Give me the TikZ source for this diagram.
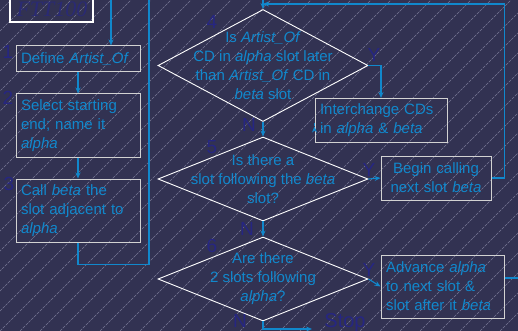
\documentclass[tikz,border=0pt]{standalone}
\usepackage{fontspec}
\setmainfont{Liberation Sans}
\newfontfamily\titlefont{Liberation Serif}
\usetikzlibrary{arrows.meta, positioning, calc, shapes.geometric}

\definecolor{slate}{RGB}{50,50,82}
\definecolor{flowblue}{RGB}{17,136,204}
\definecolor{stepnum}{RGB}{38,38,130}
\definecolor{hatchgray}{RGB}{120,120,150}

\begin{document}
\begin{tikzpicture}[x=1pt, y=-1pt,
    box/.style={draw=gray!35, line width=1pt, text=flowblue, align=left,
        font=\fontsize{15}{19}\selectfont, inner sep=5pt},
    decision/.style={diamond, draw=white, line width=0.9pt, inner sep=0pt,
        minimum width=210pt},
    qtext/.style={text=flowblue, align=center, font=\fontsize{15}{19}\selectfont},
    num/.style={text=stepnum, font=\fontsize{19}{19}\selectfont},
    flow/.style={draw=flowblue, line width=1.1pt, -{Stealth[length=6pt,width=5pt]}},
    wire/.style={draw=flowblue, line width=1.1pt}]

    \clip (0,0) rectangle (518,331);
    \fill[slate] (0,0) rectangle (518,331);

    % Hatching
    \foreach \i in {-340,-320,...,520} {
        \draw[hatchgray, line width=0.4pt, dash pattern=on 3pt off 1pt] (\i,331) -- ++(331,-331);
    }

    % Title box, cut at the top
    \draw[white, line width=2pt] (10,-6) rectangle (93,22);
    \node[text=stepnum!70!slate, font=\titlefont\itshape\fontsize{22}{22}\selectfont] (title) at (52,9) {FTT100};

    % Left column
    \node[box, text width=114pt, minimum height=26pt] (define) at (78,59) {Define \textit{Artist\_Of}};
    \node[box, text width=114pt, minimum height=63pt] (start) at (78,125.5) {Select starting\\end; name it\\\textit{alpha}};
    \node[box, text width=114pt, minimum height=63pt] (call) at (78,210.5) {Call \textit{beta} the\\slot adjacent to\\\textit{alpha}};
    \node[num] (n1) at (8,52) {1};
    \node[num] (n2) at (8,98) {2};
    \node[num] (n3) at (9,184) {3};

    \coordinate (inleft) at (111,0);
    \coordinate (outleft) at (149,0);
    \draw[flow] (inleft) -- (inleft |- define.north);
    \draw[flow] (define.south) -- (start.north);
    \draw[flow] (start.south) -- (call.north);
    \draw[wire] (call.south) -- ++(0,22) -| (outleft);

    % Decisions
    \node[decision, minimum height=112pt] (later) at (263,65.5) {};
    \node[qtext] at (later) {Is \textit{Artist\_Of}\\CD in \textit{alpha} slot later\\than \textit{Artist\_Of} CD in\\\textit{beta} slot};
    \node[decision, minimum height=84pt] (follow) at (263,179) {};
    \node[qtext] at (follow) {Is there a\\slot following the \textit{beta}\\slot?};
    \node[decision, minimum height=84pt] (twoslots) at (263,279) {};
    \node[qtext] at (twoslots) {Are there\\2 slots following\\\textit{alpha}?};
    \node[num] (n4) at (212,22) {4};
    \node[num] (n5) at (212,147) {5};
    \node[num] (n6) at (212,246) {6};

    % Actions on the right
    \node[box, text width=122pt, minimum height=44pt] (swap) at (381,120.5) {Interchange CDs\\in \textit{alpha} \& \textit{beta}};
    \node[box, text width=100pt, minimum height=44pt, align=center] (next) at (436,178) {Begin calling\\next slot \textit{beta}};
    \node[box, text width=113pt, minimum height=63pt] (advance) at (442.5,286.5) {Advance \textit{alpha}\\to next slot \&\\slot after it \textit{beta}};

    % Connectors
    \coordinate (intop) at (263,0);
    \coordinate (loopin) at (263,4);
    \coordinate (outright) at (518,278);
    \coordinate (stop) at (312,329);
    \draw[flow] (intop) -- (later.north);
    \draw[flow] (next.east) -- ++(13,0) |- (loopin);
    \draw[flow] (later.east) -| (swap.north);
    \draw[flow] ($(swap.west)+(0,6)$) -- ($(swap.west)+(0,6)$ -| later.south);
    \draw[flow] (later.south) -- (follow.north);
    \draw[flow] (follow.east) -- (next.west);
    \draw[flow] (follow.south) -- (twoslots.north);
    \draw[flow] (twoslots.east) -- (advance.west);
    \draw[wire] (advance.east |- outright) -- (outright);
    \draw[flow] (twoslots.south) |- (stop);

    % Branch labels
    \node[num] (y4) at (374,55) {Y};
    \node[num] (n4b) at (249,125) {N};
    \node[num] (y5) at (369,170) {Y};
    \node[num] (n5b) at (247,229) {N};
    \node[num] (y6) at (369,270) {Y};
    \node[num] (n6b) at (240,321) {N};
    \node[num, font=\fontsize{20}{20}\selectfont] (stoplabel) at (345,323) {Stop};
\end{tikzpicture}
\end{document}
